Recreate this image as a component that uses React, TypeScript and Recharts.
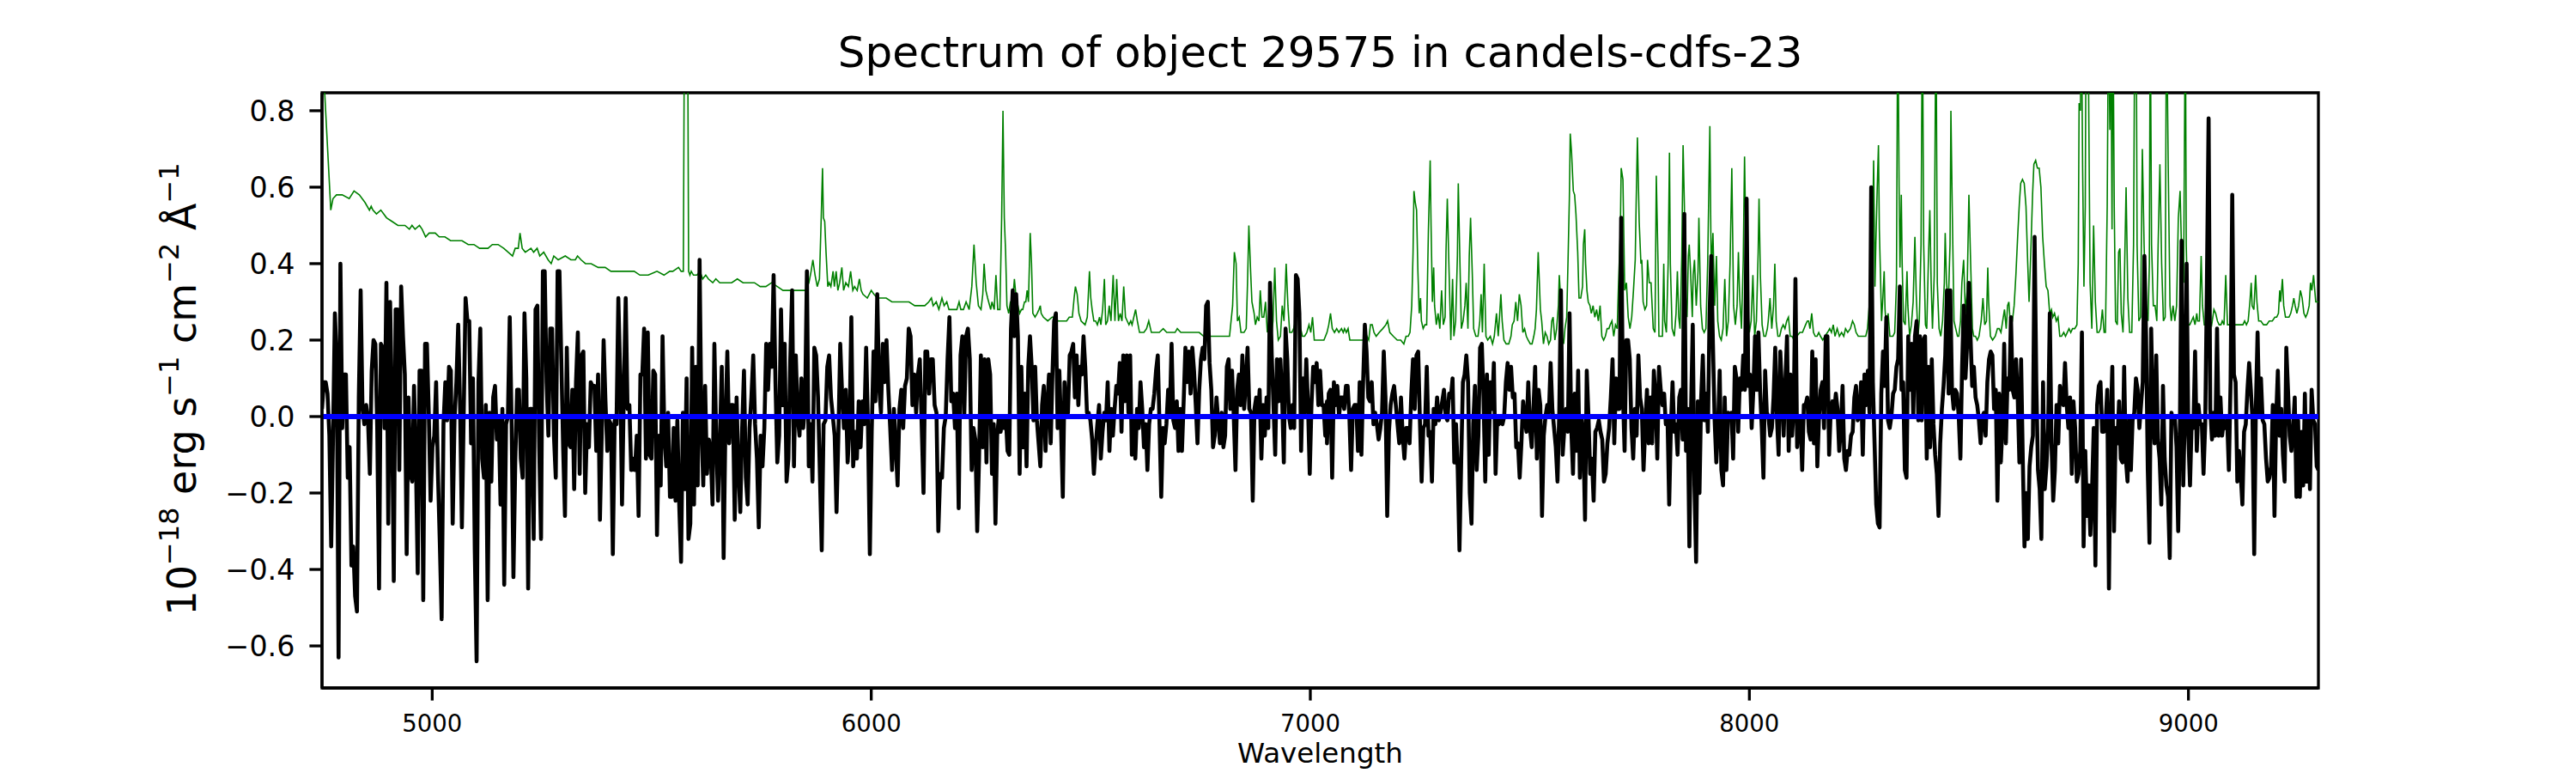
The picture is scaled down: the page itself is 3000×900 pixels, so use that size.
import React from "react";
import { LineChart, Line, XAxis, YAxis, ReferenceArea } from "recharts";

const WAVE_MIN = 4749;
const WAVE_MAX = 9296;
const FLUX_MIN = -0.71;
const FLUX_MAX = 0.847;

const X_TICKS = [5000, 6000, 7000, 8000, 9000];
const Y_TICKS = [-0.6, -0.4, -0.2, 0, 0.2, 0.4, 0.6, 0.8];

const PIECE_EDGES = [4749, 5512, 6275, 7038, 7802, 8565, 9296];

const FLUX_1 = [
  0.02, 0.09, 0.09, 0.06, -0.05, -0.34, -0.05, 0.27, 0.15, -0.63, 0.4, -0.03, 0.11, 0.11, -0.16, -0.08, -0.39, -0.34,
  -0.47, -0.51, 0.05, 0.33, 0.02, -0.02, 0.03, -0.01, -0.15, 0.12, 0.2, 0.19, -0.03, -0.45, 0.19, 0.18, -0.03, 0.35,
  -0.28, 0.3, 0.03, -0.43, 0.28, 0.28, -0.14, 0.34, 0.21, 0.11, -0.36, 0.05, -0.15, -0.17, 0.08, -0.11, -0.41, 0.12,
  0.12, -0.48, 0.19, 0.19, 0.01, -0.22, -0.08, -0.05, 0.09, -0.15, -0.33, -0.53, -0.02, 0.09, -0.01, 0.13, 0.12, -0.28,
  -0.01, 0.09, 0.24, 0.03, -0.29, 0.01, 0.31, 0.25, 0.25, -0.07, 0.1, -0.35, -0.64, 0.09, 0.23, -0.11, -0.16, 0.03,
  -0.48, 0.01, -0.17, 0.05, 0.08, -0.06, 0.0, -0.23, 0.02, -0.44, -0.02, 0.0, 0.26, -0.01, -0.42, -0.12, 0.07, 0.07,
  -0.11, -0.16, 0.27, 0.1, -0.45, 0.02, 0.02, -0.32, 0.28, 0.29, -0.08, -0.32, 0.38, 0.38, 0.09, -0.05, 0.23, 0.23,
  -0.05, -0.16, 0.38, 0.38, 0.15, -0.08, -0.26, 0.18, -0.07, -0.08, 0.07, -0.19, 0.09, 0.22, -0.15, 0.16, 0.17, -0.2,
  -0.02, -0.08, 0.09, 0.08, 0.08, -0.09, 0.11, -0.27, -0.04, 0.2, 0.04, -0.09, -0.01, -0.02, -0.36, -0.01, -0.02, 0.31,
  0.11, -0.23, 0.07, 0.31, 0.02, 0.03, -0.14, -0.11, -0.14, -0.05, -0.26, 0.11, 0.11, 0.23, -0.11, 0.22, -0.1, -0.11,
  0.12, 0.11, -0.31,
];

const FLUX_2 = [
  -0.31, -0.05, -0.18, 0.21, -0.05, -0.13, 0.01, -0.21, -0.21, -0.03, -0.22, -0.01, -0.23, -0.38, 0.01, -0.19, 0.1,
  -0.32, -0.28, 0.18, -0.23, 0.13, -0.18, 0.41, -0.02, -0.18, 0.08, -0.15, -0.06, -0.09, -0.23, 0.19, -0.06, -0.22,
  -0.06, 0.13, -0.37, -0.01, 0.17, -0.07, 0.03, 0.03, -0.27, 0.05, -0.14, -0.25, -0.03, 0.12, -0.16, -0.23, -0.03,
  0.05, 0.16, -0.02, -0.11, -0.29, -0.05, -0.13, -0.03, 0.19, 0.07, 0.19, 0.13, 0.37, 0.09, -0.12, -0.05, 0.28, 0.03,
  0.19, -0.17, -0.11, 0.15, 0.33, -0.13, 0.16, 0.0, -0.05, 0.1, -0.03, 0.03, 0.38, -0.13, -0.02, -0.17, 0.18, 0.16,
  0.05, -0.15, -0.35, -0.02, -0.01, 0.13, 0.16, 0.05, 0.0, -0.05, -0.25, -0.05, 0.19, 0.06, -0.03, 0.07, -0.12, -0.03,
  0.26, -0.13, -0.04, -0.11, 0.04, -0.08, 0.04, -0.02, 0.18, -0.03, -0.36, -0.04, 0.17, 0.04, 0.32, 0.08, 0.01, 0.19,
  0.09, 0.2, 0.07, -0.03, -0.14, 0.02, -0.08, -0.18, 0.02, 0.07, -0.03, 0.08, 0.1, 0.23, 0.21, 0.03, 0.11, 0.01, 0.11,
  0.15, -0.02, -0.2, 0.17, 0.17, 0.06, 0.15, 0.15, 0.03, 0.01, -0.3, -0.15, -0.16, -0.03, 0.0, 0.15, 0.26, 0.04, 0.06,
  -0.03, 0.06, -0.24, 0.16, 0.21, 0.0, 0.21, 0.23, 0.15, -0.14, -0.03, -0.06, -0.3, -0.11, 0.16, -0.08, 0.15, -0.12,
  0.15, 0.11, -0.15,
];

const FLUX_3 = [
  -0.15, -0.02, -0.28, -0.05, 0.0, -0.04, 0.0, -0.03, 0.0, -0.09, -0.1, 0.23, 0.33, 0.21, 0.32, 0.21, -0.15, 0.13,
  -0.08, 0.06, -0.13, 0.13, 0.21, 0.13, -0.01, 0.13, -0.01, -0.07, -0.13, 0.03, 0.08, -0.09, 0.03, 0.11, -0.07, 0.11,
  0.25, 0.27, -0.03, 0.12, -0.03, -0.21, 0.09, 0.0, 0.01, 0.16, 0.17, 0.19, 0.05, 0.16, 0.03, 0.13, 0.11, 0.21, 0.13,
  0.01, 0.01, -0.01, -0.06, -0.15, -0.08, -0.02, 0.03, -0.11, -0.04, 0.01, -0.01, 0.09, -0.09, 0.02, -0.05, 0.02, 0.08,
  0.06, 0.14, -0.04, 0.16, 0.04, 0.16, 0.01, 0.16, -0.1, -0.01, -0.11, 0.02, -0.03, 0.09, 0.02, -0.08, -0.02, -0.14,
  -0.02, 0.02, 0.02, 0.06, 0.12, 0.16, -0.02, -0.21, -0.03, -0.07, -0.02, 0.07, 0.01, 0.19, -0.01, -0.03, 0.04, -0.09,
  0.02, -0.09, 0.04, 0.18, 0.09, 0.17, 0.06, 0.18, 0.12, 0.03, -0.07, 0.07, 0.15, 0.18, 0.15, 0.29, 0.3, 0.14, 0.07,
  -0.08, -0.05, 0.05, -0.01, -0.07, 0.01, -0.08, -0.05, 0.13, 0.15, 0.02, 0.12, 0.0, -0.14, 0.07, 0.11, 0.03, 0.16,
  0.02, 0.09, 0.18, 0.02, 0.01, -0.22, 0.02, 0.05, 0.0, 0.07, -0.11, 0.03, -0.05, 0.05, -0.03, 0.35, 0.16, 0.03, -0.1,
  0.15, 0.04, 0.15, 0.05, -0.12, 0.23, 0.15, 0.0, -0.03, 0.03, -0.03, 0.37, 0.36, 0.27, -0.09, 0.1, 0.01, 0.15, 0.03,
  -0.15, 0.03, 0.13, 0.09, 0.14, 0.03, 0.12, 0.03, 0.03, -0.05, 0.04,
];

const FLUX_4 = [
  -0.07, 0.06, 0.07, -0.16, 0.09, 0.03, 0.08, 0.0, 0.05, 0.05, 0.02, 0.08, 0.08, 0.0, -0.14, 0.02, 0.03, 0.03, -0.09,
  0.09, -0.1, 0.09, 0.24, 0.17, 0.05, 0.04, 0.09, -0.02, 0.01, -0.02, -0.06, -0.03, 0.01, 0.17, 0.05, -0.26, -0.04,
  0.03, 0.06, 0.08, 0.03, -0.02, -0.07, 0.05, -0.05, -0.11, -0.03, -0.03, -0.07, 0.06, 0.15, 0.02, 0.16, 0.17, -0.01,
  -0.17, -0.03, -0.02, 0.13, -0.05, -0.04, -0.17, 0.02, -0.02, 0.05, -0.01, 0.01, 0.04, 0.07, 0.0, -0.01, 0.06, 0.05,
  0.1, -0.12, -0.02, -0.14, -0.35, -0.12, 0.09, 0.11, 0.16, 0.09, -0.2, -0.28, -0.02, 0.08, -0.14, -0.05, 0.18, 0.19,
  0.05, -0.17, 0.11, -0.1, 0.09, 0.02, 0.14, -0.15, 0.0, -0.02, -0.01, -0.02, 0.0, 0.09, 0.14, 0.07, 0.13, 0.05, 0.06,
  -0.08, -0.07, -0.16, -0.07, 0.04, -0.01, -0.04, 0.09, -0.03, -0.08, 0.02, 0.13, -0.11, 0.07, 0.03, -0.26, -0.05, 0.0,
  0.03, 0.01, 0.14, 0.02, -0.03, -0.08, -0.17, 0.01, 0.33, -0.1, -0.03, 0.02, -0.04, 0.27, -0.03, -0.15, 0.06, -0.09,
  0.12, -0.16, 0.0, -0.05, -0.27, 0.12, 0.0, -0.15, -0.11, -0.22, -0.04, -0.03, -0.01, -0.04, -0.06, -0.17, -0.15,
  -0.07, -0.03, 0.05, 0.15, -0.07, 0.1, 0.02, 0.02, 0.52, 0.06, -0.09, 0.2, 0.2, 0.15, -0.03, -0.11, 0.02, -0.05, 0.16,
  0.05, 0.02, -0.14, -0.03, 0.07, -0.07, 0.05, -0.07, 0.12, 0.05, -0.11, 0.13, 0.07, 0.03,
];

const FLUX_5 = [
  0.05, 0.06, -0.02, 0.0, -0.23, -0.03, 0.09, -0.04, -0.02, -0.1, 0.05, 0.07, -0.06, 0.53, -0.09, 0.02, -0.34, 0.02,
  0.24, -0.18, -0.38, 0.04, -0.2, 0.05, 0.16, -0.01, 0.06, -0.04, 0.27, 0.42, 0.19, -0.01, -0.12, -0.03, 0.12, -0.14,
  -0.18, 0.05, -0.14, 0.01, 0.0, 0.01, -0.11, 0.13, 0.1, -0.04, 0.1, 0.07, 0.16, 0.07, 0.57, 0.08, 0.11, -0.03, 0.07,
  0.21, 0.07, 0.22, 0.07, -0.03, -0.16, 0.12, 0.01, 0.0, -0.05, -0.03, 0.05, 0.18, 0.0, -0.1, 0.17, 0.07, -0.05, 0.09,
  0.21, -0.09, 0.11, -0.05, 0.02, 0.36, -0.08, -0.01, 0.0, -0.14, 0.03, 0.03, 0.05, -0.04, -0.06, 0.17, -0.07, 0.15,
  -0.13, 0.0, 0.07, 0.09, -0.03, 0.21, 0.21, -0.1, 0.02, 0.04, 0.01, 0.06, 0.02, -0.09, -0.03, 0.08, -0.11, -0.14,
  -0.09, -0.1, -0.05, -0.04, 0.05, 0.08, -0.01, 0.0, 0.09, -0.1, 0.11, 0.03, 0.12, 0.01, 0.6, 0.09, -0.07, -0.23,
  -0.28, -0.29, 0.06, 0.17, 0.08, 0.26, -0.01, -0.03, 0.0, 0.06, 0.07, 0.13, 0.15, 0.34, 0.07, 0.09, -0.14, -0.16, 0.21,
  0.07, 0.19, 0.0, 0.21, 0.25, -0.01, 0.21, -0.01, 0.2, 0.21, -0.11, 0.13, -0.08, 0.15, -0.02, -0.1, -0.15, -0.26,
  -0.07, 0.02, 0.08, 0.16, 0.33, 0.06, 0.33, 0.07, 0.02, 0.07, 0.06, 0.0, -0.11, 0.13, 0.29, 0.1, 0.19, 0.35, 0.21,
  0.08, 0.13, 0.05, 0.03, -0.01, -0.07, 0.0, 0.01, -0.05, 0.09, 0.15, 0.17, 0.16, 0.02, 0.07, -0.22,
];

const FLUX_6 = [
  -0.22, 0.06, -0.12, -0.02, 0.19, -0.07, 0.1, 0.07, 0.26, 0.07, 0.05, 0.15, 0.05, -0.12, 0.15, -0.11, -0.34, -0.2,
  -0.32, -0.13, -0.08, -0.05, 0.47, 0.09, -0.14, -0.19, -0.32, 0.09, -0.19, -0.13, -0.03, 0.27, -0.07, -0.22, -0.14,
  0.03, -0.07, 0.08, 0.04, 0.03, 0.14, 0.03, -0.03, 0.05, -0.15, 0.04, -0.03, -0.17, -0.15, -0.09, 0.22, -0.34, -0.09,
  -0.26, -0.18, -0.31, -0.19, -0.03, -0.39, 0.03, 0.08, 0.09, -0.04, -0.04, -0.02, 0.07, -0.45, -0.03, 0.13, -0.3,
  -0.03, -0.07, 0.04, -0.11, -0.12, 0.13, -0.11, -0.17, 0.0, -0.14, -0.01, 0.01, 0.1, 0.07, -0.03, 0.03, 0.09, 0.42,
  0.21, -0.14, -0.33, 0.23, 0.01, -0.07, 0.16, -0.06, -0.11, -0.23, 0.08, -0.11, -0.18, -0.21, -0.37, 0.01, -0.01, 0.0,
  -0.08, -0.3, -0.03, 0.46, -0.18, 0.02, 0.4, -0.05, -0.18, -0.01, -0.03, 0.17, -0.09, 0.03, -0.02, -0.02, -0.15,
  -0.02, 0.35, 0.78, 0.02, -0.06, 0.01, -0.05, 0.23, -0.05, 0.05, -0.05, -0.01, -0.03, -0.01, -0.14, 0.09, 0.58, 0.11,
  0.09, -0.17, -0.09, -0.15, -0.23, -0.04, -0.02, 0.07, 0.14, 0.07, -0.01, -0.36, 0.03, 0.22, 0.0, 0.1, -0.01, -0.02,
  -0.11, -0.17, -0.16, -0.13, 0.03, -0.26, 0.0, 0.12, -0.05, 0.02, -0.1, -0.17, 0.18, 0.07, -0.05, -0.09, -0.03, 0.05,
  -0.21, -0.01, -0.21, -0.04, -0.18, 0.06, -0.17, -0.01, -0.19, 0.07, -0.01, -0.02, -0.13, -0.14,
];

// sky / noise spectrum as [wavelength, flux]
const SKY_1: [number, number][] = [
  [4749, 1.0], [4755, 0.85], [4769, 0.54], [4774, 0.57], [4782, 0.58], [4795, 0.58], [4811, 0.57], [4822, 0.59],
  [4834, 0.58], [4847, 0.56], [4857, 0.54], [4861, 0.55], [4865, 0.54], [4873, 0.53], [4883, 0.54], [4896, 0.52],
  [4909, 0.51], [4922, 0.5], [4938, 0.5], [4948, 0.49], [4954, 0.5], [4961, 0.49], [4971, 0.5], [4977, 0.49],
  [4985, 0.47], [4993, 0.48], [5007, 0.48], [5016, 0.47], [5029, 0.47], [5042, 0.46], [5055, 0.46], [5068, 0.46],
  [5082, 0.45], [5095, 0.45], [5108, 0.44], [5127, 0.44], [5137, 0.45], [5150, 0.45], [5163, 0.44], [5173, 0.43],
  [5183, 0.42], [5189, 0.44], [5196, 0.44], [5200, 0.48], [5205, 0.44], [5212, 0.43], [5225, 0.44], [5231, 0.43],
  [5239, 0.44], [5245, 0.42], [5254, 0.43], [5264, 0.41], [5271, 0.4], [5277, 0.42], [5287, 0.41], [5303, 0.42],
  [5316, 0.41], [5326, 0.41], [5331, 0.42], [5339, 0.41], [5349, 0.4], [5362, 0.4], [5378, 0.39], [5394, 0.39],
  [5407, 0.38], [5420, 0.38], [5437, 0.38], [5447, 0.38], [5460, 0.38], [5473, 0.37], [5492, 0.37],
];

const SKY_2: [number, number][] = [
  [5512, 0.38], [5528, 0.37], [5541, 0.38], [5548, 0.38], [5561, 0.39], [5567, 0.38], [5572, 0.38], [5575, 1.2],
  [5577, 0.95], [5580, 1.2], [5582, 1.0], [5584, 0.38], [5587, 0.37], [5590, 0.38], [5595, 0.37], [5603, 0.37],
  [5610, 0.38], [5616, 0.36], [5623, 0.37], [5629, 0.36], [5639, 0.35], [5646, 0.36], [5655, 0.35], [5668, 0.35],
  [5682, 0.35], [5695, 0.36], [5708, 0.35], [5721, 0.35], [5734, 0.35], [5747, 0.34], [5760, 0.34], [5773, 0.35],
  [5786, 0.34], [5799, 0.33], [5812, 0.33], [5825, 0.33], [5838, 0.33], [5850, 0.33], [5858, 0.35], [5863, 0.38],
  [5867, 0.41], [5872, 0.37], [5877, 0.34], [5882, 0.36], [5886, 0.52], [5889, 0.65], [5891, 0.52], [5894, 0.51],
  [5897, 0.43], [5901, 0.34], [5904, 0.35], [5908, 0.34], [5913, 0.38], [5916, 0.34], [5920, 0.38], [5924, 0.33],
  [5928, 0.35], [5933, 0.39], [5937, 0.33], [5942, 0.35], [5948, 0.34], [5953, 0.38], [5958, 0.33], [5962, 0.34],
  [5968, 0.33], [5973, 0.36], [5977, 0.33], [5981, 0.32], [5991, 0.31], [6000, 0.33], [6006, 0.32], [6014, 0.31],
  [6024, 0.31], [6034, 0.31], [6047, 0.3], [6060, 0.3], [6073, 0.3], [6086, 0.3], [6099, 0.29], [6112, 0.29],
  [6122, 0.29], [6131, 0.3], [6137, 0.31], [6141, 0.29], [6148, 0.3], [6154, 0.28], [6161, 0.31], [6166, 0.29],
  [6172, 0.3], [6177, 0.28], [6187, 0.28], [6195, 0.28], [6200, 0.3], [6204, 0.28], [6210, 0.28], [6216, 0.3],
  [6223, 0.28], [6229, 0.34], [6234, 0.45], [6239, 0.35], [6244, 0.29], [6250, 0.28], [6254, 0.32], [6257, 0.4],
  [6261, 0.33], [6265, 0.31], [6272, 0.28],
];

const SKY_3: [number, number][] = [
  [6275, 0.3], [6280, 0.28], [6284, 0.37], [6288, 0.28], [6293, 0.28], [6297, 0.52], [6300, 0.8], [6303, 0.52],
  [6306, 0.43], [6309, 0.29], [6313, 0.27], [6317, 0.3], [6322, 0.3], [6326, 0.36], [6330, 0.31], [6334, 0.29],
  [6338, 0.27], [6342, 0.28], [6345, 0.28], [6349, 0.3], [6352, 0.3], [6355, 0.33], [6358, 0.3], [6362, 0.48],
  [6365, 0.4], [6368, 0.27], [6373, 0.26], [6378, 0.27], [6382, 0.28], [6385, 0.29], [6387, 0.27], [6392, 0.26],
  [6402, 0.25], [6412, 0.26], [6415, 0.26], [6420, 0.26], [6425, 0.25], [6435, 0.25], [6445, 0.25], [6451, 0.26],
  [6458, 0.26], [6462, 0.31], [6465, 0.34], [6469, 0.32], [6473, 0.27], [6478, 0.25], [6487, 0.24], [6492, 0.26],
  [6497, 0.38], [6500, 0.31], [6503, 0.28], [6507, 0.25], [6511, 0.25], [6515, 0.24], [6520, 0.26], [6523, 0.24],
  [6527, 0.28], [6531, 0.36], [6534, 0.24], [6538, 0.25], [6542, 0.29], [6546, 0.25], [6551, 0.37], [6555, 0.25],
  [6559, 0.36], [6563, 0.25], [6567, 0.27], [6571, 0.25], [6575, 0.34], [6579, 0.26], [6583, 0.25], [6587, 0.24],
  [6591, 0.25], [6594, 0.24], [6598, 0.26], [6602, 0.28], [6606, 0.25], [6611, 0.22], [6621, 0.22], [6627, 0.23],
  [6632, 0.25], [6638, 0.22], [6647, 0.22], [6656, 0.22], [6665, 0.23], [6673, 0.22], [6682, 0.22], [6692, 0.22],
  [6697, 0.23], [6705, 0.22], [6713, 0.22], [6718, 0.22], [6725, 0.22], [6731, 0.22], [6739, 0.22], [6747, 0.22],
  [6757, 0.21], [6771, 0.21], [6780, 0.21], [6790, 0.21], [6803, 0.21], [6816, 0.21], [6823, 0.29], [6827, 0.43],
  [6831, 0.4], [6834, 0.25], [6838, 0.26], [6842, 0.22], [6849, 0.22], [6854, 0.23], [6857, 0.35], [6860, 0.5],
  [6864, 0.38], [6867, 0.3], [6872, 0.27], [6875, 0.24], [6879, 0.26], [6883, 0.25], [6886, 0.33], [6890, 0.26],
  [6894, 0.26], [6898, 0.3], [6902, 0.22], [6906, 0.25], [6911, 0.2], [6915, 0.25], [6919, 0.39], [6923, 0.25],
  [6927, 0.2], [6932, 0.21], [6936, 0.29], [6940, 0.25], [6945, 0.4], [6949, 0.29], [6953, 0.22], [6958, 0.22],
  [6962, 0.23], [6966, 0.25], [6970, 0.31], [6974, 0.34], [6978, 0.23], [6982, 0.21], [6987, 0.21], [6992, 0.22],
  [6997, 0.24], [7001, 0.22], [7005, 0.26], [7009, 0.2], [7016, 0.2], [7025, 0.2], [7031, 0.2],
];

const SKY_4: [number, number][] = [
  [7038, 0.22], [7042, 0.24], [7046, 0.27], [7050, 0.23], [7055, 0.22], [7060, 0.23], [7065, 0.22], [7071, 0.23],
  [7075, 0.22], [7078, 0.23], [7082, 0.22], [7086, 0.23], [7090, 0.2], [7097, 0.2], [7103, 0.2], [7110, 0.2],
  [7116, 0.2], [7121, 0.2], [7125, 0.22], [7129, 0.21], [7133, 0.2], [7137, 0.24], [7141, 0.24], [7145, 0.22],
  [7150, 0.21], [7157, 0.22], [7165, 0.23], [7172, 0.24], [7176, 0.25], [7181, 0.22], [7189, 0.21], [7198, 0.2],
  [7206, 0.2], [7213, 0.19], [7218, 0.21], [7223, 0.21], [7227, 0.22], [7231, 0.29], [7234, 0.43], [7236, 0.59],
  [7239, 0.56], [7242, 0.54], [7245, 0.38], [7248, 0.27], [7251, 0.31], [7253, 0.25], [7257, 0.23], [7261, 0.24],
  [7265, 0.24], [7269, 0.49], [7273, 0.67], [7275, 0.5], [7278, 0.3], [7281, 0.39], [7283, 0.29], [7287, 0.24],
  [7291, 0.27], [7295, 0.23], [7299, 0.33], [7303, 0.24], [7307, 0.26], [7309, 0.43], [7312, 0.57], [7316, 0.38],
  [7320, 0.2], [7324, 0.36], [7327, 0.21], [7331, 0.25], [7335, 0.42], [7337, 0.61], [7341, 0.39], [7344, 0.23],
  [7348, 0.25], [7352, 0.29], [7355, 0.35], [7359, 0.23], [7362, 0.42], [7365, 0.52], [7369, 0.37], [7372, 0.23],
  [7377, 0.21], [7382, 0.21], [7386, 0.25], [7389, 0.32], [7392, 0.22], [7396, 0.4], [7400, 0.21], [7404, 0.2],
  [7410, 0.21], [7415, 0.19], [7419, 0.21], [7424, 0.27], [7428, 0.21], [7432, 0.28], [7434, 0.32], [7437, 0.25],
  [7441, 0.2], [7446, 0.19], [7452, 0.19], [7457, 0.21], [7460, 0.24], [7464, 0.25], [7468, 0.3], [7472, 0.25],
  [7476, 0.32], [7480, 0.29], [7484, 0.22], [7488, 0.23], [7492, 0.21], [7496, 0.2], [7501, 0.19], [7505, 0.19],
  [7509, 0.21], [7512, 0.23], [7515, 0.28], [7519, 0.43], [7522, 0.34], [7524, 0.28], [7527, 0.25], [7531, 0.19],
  [7535, 0.22], [7539, 0.21], [7543, 0.19], [7547, 0.2], [7550, 0.25], [7553, 0.26], [7557, 0.2], [7561, 0.23],
  [7565, 0.29], [7567, 0.37], [7569, 0.33], [7573, 0.21], [7577, 0.19], [7580, 0.23], [7584, 0.26], [7587, 0.41],
  [7590, 0.57], [7592, 0.74], [7595, 0.69], [7599, 0.59], [7602, 0.58], [7605, 0.53], [7609, 0.43], [7612, 0.31],
  [7616, 0.31], [7620, 0.34], [7622, 0.45], [7625, 0.49], [7627, 0.4], [7630, 0.33], [7633, 0.3], [7637, 0.29],
  [7640, 0.27], [7644, 0.29], [7648, 0.26], [7652, 0.28], [7656, 0.25], [7660, 0.29], [7664, 0.21], [7668, 0.2],
  [7672, 0.21], [7676, 0.23], [7680, 0.23], [7683, 0.24], [7687, 0.25], [7691, 0.21], [7695, 0.24], [7699, 0.23],
  [7702, 0.35], [7706, 0.48], [7708, 0.65], [7712, 0.62], [7716, 0.33], [7720, 0.35], [7724, 0.26], [7728, 0.23],
  [7732, 0.26], [7736, 0.33], [7740, 0.41], [7742, 0.55], [7745, 0.73], [7749, 0.51], [7753, 0.4], [7755, 0.41],
  [7758, 0.3], [7762, 0.28], [7766, 0.29], [7768, 0.41], [7772, 0.35], [7776, 0.35], [7781, 0.23], [7785, 0.22],
  [7788, 0.63], [7792, 0.4], [7794, 0.21], [7798, 0.21],
];

const SKY_5: [number, number][] = [
  [7802, 0.21], [7805, 0.4], [7807, 0.25], [7811, 0.22], [7815, 0.4], [7818, 0.69], [7820, 0.4], [7824, 0.23],
  [7829, 0.21], [7833, 0.27], [7836, 0.38], [7839, 0.26], [7842, 0.23], [7846, 0.42], [7849, 0.71], [7852, 0.55],
  [7854, 0.33], [7858, 0.26], [7861, 0.42], [7863, 0.45], [7866, 0.38], [7870, 0.26], [7872, 0.37], [7875, 0.41],
  [7879, 0.29], [7883, 0.38], [7885, 0.52], [7889, 0.29], [7893, 0.23], [7897, 0.22], [7901, 0.23], [7905, 0.4],
  [7910, 0.76], [7913, 0.38], [7917, 0.48], [7921, 0.29], [7925, 0.42], [7928, 0.25], [7932, 0.21], [7936, 0.2],
  [7940, 0.23], [7944, 0.36], [7948, 0.21], [7952, 0.25], [7956, 0.4], [7960, 0.65], [7964, 0.29], [7968, 0.24],
  [7972, 0.29], [7975, 0.43], [7978, 0.31], [7982, 0.23], [7986, 0.41], [7989, 0.68], [7992, 0.45], [7996, 0.29],
  [8000, 0.22], [8004, 0.25], [8008, 0.37], [8012, 0.21], [8016, 0.25], [8020, 0.43], [8022, 0.57], [8025, 0.37],
  [8029, 0.24], [8033, 0.21], [8037, 0.21], [8041, 0.23], [8043, 0.25], [8047, 0.31], [8051, 0.23], [8055, 0.29],
  [8058, 0.4], [8061, 0.25], [8065, 0.21], [8069, 0.21], [8073, 0.23], [8077, 0.24], [8081, 0.23], [8085, 0.25],
  [8089, 0.26], [8093, 0.21], [8097, 0.21], [8102, 0.2], [8108, 0.21], [8115, 0.22], [8121, 0.22], [8128, 0.24],
  [8132, 0.25], [8135, 0.25], [8138, 0.23], [8142, 0.27], [8146, 0.22], [8150, 0.21], [8154, 0.21], [8158, 0.22],
  [8162, 0.21], [8167, 0.2], [8172, 0.21], [8178, 0.22], [8183, 0.23], [8187, 0.22], [8191, 0.24], [8195, 0.21],
  [8200, 0.23], [8205, 0.21], [8210, 0.22], [8215, 0.21], [8219, 0.23], [8224, 0.22], [8230, 0.23], [8235, 0.25],
  [8239, 0.24], [8243, 0.22], [8248, 0.21], [8253, 0.21], [8258, 0.21], [8265, 0.21], [8269, 0.23], [8273, 0.29],
  [8277, 0.31], [8281, 0.5], [8283, 0.67], [8286, 0.34], [8288, 0.45], [8291, 0.59], [8294, 0.71], [8296, 0.49],
  [8299, 0.35], [8301, 0.25], [8304, 0.31], [8307, 0.38], [8309, 0.28], [8312, 0.23], [8316, 0.27], [8320, 0.21],
  [8324, 0.21], [8327, 0.21], [8331, 0.22], [8335, 0.35], [8338, 1.1], [8341, 0.6], [8343, 0.39], [8346, 0.58],
  [8348, 0.4], [8351, 0.25], [8355, 0.24], [8359, 0.38], [8361, 0.29], [8365, 0.21], [8369, 0.24], [8373, 0.3],
  [8377, 0.47], [8380, 0.32], [8384, 0.21], [8387, 0.25], [8391, 0.45], [8394, 1.1], [8397, 0.45], [8401, 0.24],
  [8404, 0.23], [8408, 0.42], [8411, 0.54], [8414, 0.35], [8417, 0.23], [8421, 0.37], [8425, 1.1], [8428, 0.35],
  [8432, 0.23], [8436, 0.21], [8440, 0.25], [8444, 0.35], [8446, 0.48], [8449, 0.35], [8453, 0.29], [8457, 0.45],
  [8459, 0.8], [8462, 0.55], [8466, 0.25], [8470, 0.23], [8474, 0.21], [8477, 0.21], [8481, 0.25], [8484, 0.35],
  [8488, 0.41], [8492, 0.27], [8496, 0.33], [8500, 0.58], [8504, 0.4], [8508, 0.23], [8511, 0.21], [8515, 0.21],
  [8519, 0.2], [8523, 0.21], [8528, 0.25], [8532, 0.31], [8536, 0.24], [8540, 0.25], [8543, 0.39], [8545, 0.3],
  [8549, 0.21], [8554, 0.2], [8560, 0.21],
];

const SKY_6: [number, number][] = [
  [8565, 0.23], [8569, 0.23], [8573, 0.22], [8577, 0.25], [8581, 0.28], [8585, 0.23], [8588, 0.29], [8591, 0.3],
  [8595, 0.23], [8599, 0.25], [8603, 0.29], [8607, 0.37], [8611, 0.47], [8615, 0.56], [8618, 0.61], [8622, 0.62],
  [8626, 0.61], [8630, 0.55], [8634, 0.4], [8637, 0.3], [8641, 0.43], [8645, 0.58], [8648, 0.66], [8652, 0.67],
  [8656, 0.65], [8660, 0.65], [8664, 0.6], [8668, 0.47], [8672, 0.4], [8676, 0.34], [8680, 0.33], [8684, 0.27],
  [8688, 0.28], [8691, 0.26], [8695, 0.27], [8699, 0.25], [8703, 0.26], [8707, 0.21], [8711, 0.21], [8716, 0.22],
  [8720, 0.21], [8724, 0.22], [8728, 0.23], [8732, 0.22], [8736, 0.23], [8741, 0.23], [8746, 0.24], [8749, 0.4],
  [8751, 0.82], [8754, 0.8], [8756, 1.1], [8759, 0.65], [8762, 0.34], [8765, 0.55], [8767, 1.1], [8771, 1.1],
  [8774, 0.65], [8776, 0.35], [8780, 0.23], [8784, 0.5], [8788, 0.3], [8792, 0.22], [8796, 0.22], [8800, 0.23],
  [8804, 0.28], [8808, 0.22], [8811, 0.22], [8815, 0.55], [8818, 1.1], [8821, 0.75], [8823, 1.1], [8826, 0.49],
  [8828, 1.1], [8831, 0.55], [8834, 0.25], [8838, 0.24], [8841, 0.43], [8844, 0.44], [8847, 0.27], [8851, 0.22],
  [8854, 0.35], [8858, 0.6], [8862, 0.31], [8866, 0.22], [8871, 0.22], [8875, 0.45], [8878, 1.1], [8881, 1.1],
  [8883, 0.45], [8887, 0.25], [8891, 0.26], [8895, 0.7], [8899, 0.45], [8903, 0.29], [8908, 0.25], [8911, 0.4],
  [8913, 1.1], [8916, 0.45], [8920, 0.29], [8924, 0.29], [8928, 0.25], [8931, 0.45], [8935, 0.66], [8939, 0.4],
  [8943, 0.25], [8947, 0.26], [8950, 1.1], [8954, 0.65], [8958, 0.29], [8961, 0.25], [8965, 0.29], [8969, 0.25],
  [8973, 0.29], [8977, 0.52], [8981, 0.59], [8985, 0.4], [8989, 0.35], [8993, 1.1], [8995, 0.45], [8999, 0.24],
  [9003, 0.24], [9007, 0.25], [9011, 0.26], [9015, 0.24], [9019, 0.27], [9021, 0.25], [9025, 0.25], [9029, 0.42],
  [9032, 0.29], [9036, 0.24], [9041, 0.24], [9045, 0.25], [9049, 0.25], [9053, 0.24], [9058, 0.28], [9062, 0.27],
  [9066, 0.25], [9070, 0.24], [9074, 0.24], [9077, 0.25], [9081, 0.24], [9085, 0.37], [9089, 0.24], [9094, 0.24],
  [9100, 0.24], [9106, 0.24], [9113, 0.24], [9119, 0.24], [9124, 0.24], [9128, 0.25], [9132, 0.24], [9136, 0.25],
  [9140, 0.3], [9143, 0.35], [9145, 0.29], [9149, 0.28], [9153, 0.37], [9156, 0.3], [9160, 0.25], [9165, 0.25],
  [9171, 0.24], [9178, 0.24], [9184, 0.25], [9191, 0.25], [9197, 0.26], [9201, 0.26], [9205, 0.27], [9208, 0.33],
  [9210, 0.3], [9214, 0.36], [9217, 0.29], [9221, 0.26], [9225, 0.26], [9229, 0.26], [9233, 0.27], [9237, 0.29],
  [9240, 0.31], [9243, 0.29], [9247, 0.27], [9251, 0.29], [9255, 0.33], [9259, 0.31], [9263, 0.27], [9267, 0.26],
  [9271, 0.27], [9275, 0.29], [9278, 0.35], [9281, 0.33], [9285, 0.37], [9287, 0.34], [9290, 0.3], [9294, 0.3],
  [9296, 0.3],
];

const ZERO_LINE: [number, number][] = [
  [WAVE_MIN, 0],
  [WAVE_MAX, 0],
];

const FONT = "DejaVu Sans";
const SPINE = 3.3;

function spreadPiece(values: number[], from: number, to: number) {
  const step = (to - from) / (values.length - 1);
  return values.map((f, i) => ({ w: from + i * step, f }));
}

const fluxData = [FLUX_1, FLUX_2, FLUX_3, FLUX_4, FLUX_5, FLUX_6].flatMap((vals, k) =>
  spreadPiece(vals, PIECE_EDGES[k], PIECE_EDGES[k + 1])
);
const skyData = [...SKY_1, ...SKY_2, ...SKY_3, ...SKY_4, ...SKY_5, ...SKY_6].map(([w, f]) => ({ w, f }));
const zeroData = ZERO_LINE.map(([w, f]) => ({ w, f }));

const fmtY = (v: number) => (v < 0 ? "\u2212" : "") + Math.abs(v).toFixed(1);

export default function App() {
  return (
    <div style={{ position: "absolute", left: 0, top: 0, width: 3000, height: 900, background: "#fff" }}>
      <LineChart width={3000} height={900} margin={{ top: 108, right: 300, bottom: 0, left: 0 }}>
        <XAxis
          type="number"
          dataKey="w"
          domain={[WAVE_MIN, WAVE_MAX]}
          ticks={X_TICKS}
          allowDataOverflow
          height={99}
          tickSize={14.6}
          tickMargin={17}
          axisLine={{ stroke: "#000", strokeWidth: SPINE }}
          tickLine={{ stroke: "#000", strokeWidth: SPINE }}
          tick={{ fontSize: 27.5, fill: "#000", fontFamily: FONT }}
        />
        <YAxis
          type="number"
          domain={[FLUX_MIN, FLUX_MAX]}
          ticks={Y_TICKS}
          allowDataOverflow
          width={375}
          tickSize={14.6}
          tickMargin={17}
          tickFormatter={fmtY}
          axisLine={{ stroke: "#000", strokeWidth: SPINE }}
          tickLine={{ stroke: "#000", strokeWidth: SPINE }}
          tick={{ fontSize: 33.3, fill: "#000", fontFamily: FONT }}
        />
        <Line
          data={skyData}
          dataKey="f"
          type="linear"
          stroke="#008000"
          strokeWidth={1.6}
          dot={false}
          activeDot={false}
          isAnimationActive={false}
        />
        <Line
          data={fluxData}
          dataKey="f"
          type="linear"
          stroke="#000000"
          strokeWidth={4.6}
          strokeLinejoin="round"
          dot={false}
          activeDot={false}
          isAnimationActive={false}
        />
        <Line
          data={zeroData}
          dataKey="f"
          type="linear"
          stroke="#0000ff"
          strokeWidth={6}
          dot={false}
          activeDot={false}
          isAnimationActive={false}
        />
        <ReferenceArea
          x1={WAVE_MIN}
          x2={WAVE_MAX}
          y1={FLUX_MIN}
          y2={FLUX_MAX}
          fill="none"
          fillOpacity={0}
          stroke="#000"
          strokeWidth={SPINE}
        />
      </LineChart>
      <svg
        width={3000}
        height={900}
        style={{ position: "absolute", left: 0, top: 0, pointerEvents: "none" }}
        fontFamily={FONT}
      >
        <text x={1537.5} y={78} textAnchor="middle" fontSize={50} fill="#000">
          Spectrum of object 29575 in candels-cdfs-23
        </text>
        <text x={1537.5} y={888} textAnchor="middle" fontSize={32.5} fill="#000">
          Wavelength
        </text>
        <text transform="translate(228 453) rotate(-90)" textAnchor="middle" fontSize={46} fill="#000">
          10
          <tspan dy={-20} fontSize={32}>
            {"\u221218"}
          </tspan>
          <tspan dy={20}>{" erg s"}</tspan>
          <tspan dy={-20} fontSize={32}>
            {"\u22121"}
          </tspan>
          <tspan dy={20}>{" cm"}</tspan>
          <tspan dy={-20} fontSize={32}>
            {"\u22122"}
          </tspan>
          <tspan dy={20}>{" \u00c5"}</tspan>
          <tspan dy={-20} fontSize={32}>
            {"\u22121"}
          </tspan>
        </text>
      </svg>
    </div>
  );
}
